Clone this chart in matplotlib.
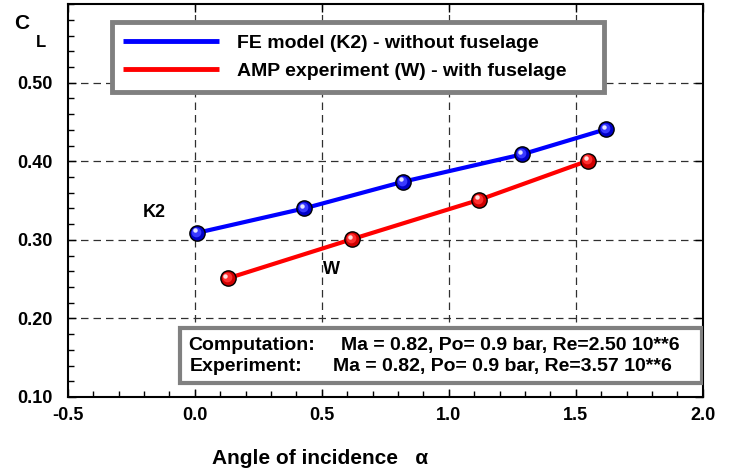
import matplotlib
matplotlib.use("Agg")
import matplotlib.pyplot as plt
from matplotlib.patches import Rectangle
from matplotlib.ticker import MultipleLocator
import matplotlib.transforms as mtransforms

plt.rcParams['font.family'] = ['Liberation Sans', 'DejaVu Sans']
plt.rcParams['font.weight'] = 'bold'

# Lift coefficient vs angle of incidence
alpha_fe = [0.01, 0.43, 0.82, 1.29, 1.62]
cl_fe = [0.309, 0.340, 0.374, 0.409, 0.441]
alpha_amp = [0.13, 0.62, 1.12, 1.55]
cl_amp = [0.251, 0.301, 0.351, 0.401]

label_fe = "FE model (K2) - without fuselage"
label_amp = "AMP experiment (W) - with fuselage"
info_rows = [("Computation:", "Ma = 0.82, Po= 0.9 bar, Re=2.50 10**6"),
             ("Experiment:", "Ma = 0.82, Po= 0.9 bar, Re=3.57 10**6")]
x_ticks = [-0.5, 0.0, 0.5, 1.0, 1.5, 2.0]
y_ticks = [0.10, 0.20, 0.30, 0.40, 0.50]

fig = plt.figure(figsize=(7.29, 4.72), dpi=100)
ax = fig.add_axes([0.093, 0.159, 0.871, 0.832])
ax.set_xlim(-0.5, 2.0)
ax.set_ylim(0.10, 0.60)


def sphere(ax, xs, ys, base, mid, light, z):
    """Draw shaded ball markers."""
    ax.plot(xs, ys, 'o', ms=11, mfc=base, mec='black', mew=1.0, zorder=z, ls='none')
    t1 = mtransforms.offset_copy(ax.transData, fig=fig, x=-0.8, y=0.8, units='points')
    ax.plot(xs, ys, 'o', ms=7, mfc=mid, mec='none', zorder=z + 0.1, ls='none', transform=t1)
    t2 = mtransforms.offset_copy(ax.transData, fig=fig, x=-1.8, y=1.8, units='points')
    ax.plot(xs, ys, 'o', ms=3.2, mfc=light, mec='none', zorder=z + 0.2, ls='none', transform=t2)


l1, = ax.plot(alpha_fe, cl_fe, color='#0000ff', lw=3, zorder=3, solid_capstyle='butt')
l2, = ax.plot(alpha_amp, cl_amp, color='#ff0000', lw=3, zorder=3, solid_capstyle='butt')
sphere(ax, alpha_fe, cl_fe, '#0000c8', '#3a3aff', '#e6e6ff', 5)
sphere(ax, alpha_amp, cl_amp, '#d00000', '#ff3030', '#ffe0e0', 5)

ax.text(-0.16, 0.335, "K2", fontsize=13, fontweight='bold', ha='center', va='center', zorder=6)
ax.text(0.54, 0.262, "W", fontsize=13, fontweight='bold', ha='center', va='center', zorder=6)

# grid
for xv in x_ticks[1:-1]:
    ax.axvline(xv, color='#303030', lw=0.9, ls=(0, (6, 4)), zorder=1)
for yv in y_ticks[1:]:
    ax.axhline(yv, color='#303030', lw=0.9, ls=(0, (6, 4)), zorder=1)

ax.set_xticks(x_ticks)
ax.set_yticks(y_ticks)
ax.set_xticklabels([f"{v:.1f}" for v in x_ticks])
ax.set_yticklabels([f"{v:.2f}" for v in y_ticks])
ax.xaxis.set_minor_locator(MultipleLocator(0.1))
ax.yaxis.set_minor_locator(MultipleLocator(0.02))
ax.tick_params(which='both', direction='in', top=True, right=True, width=1.0)
ax.tick_params(which='major', length=6, labelsize=13)
ax.tick_params(axis='y', which='major', pad=11)
ax.tick_params(axis='x', which='major', pad=7)
ax.tick_params(which='minor', length=4)
ax.tick_params(axis='y', which='minor', right=False)
ax.tick_params(axis='x', which='minor', top=False)
for s in ax.spines.values():
    s.set_linewidth(1.5)
for lab in ax.get_xticklabels() + ax.get_yticklabels():
    lab.set_fontweight('bold')

ax.set_xlabel("Angle of incidence   \u03b1", fontsize=15, fontweight='bold')
ax.xaxis.label.set_va('center')
ax.xaxis.set_label_coords(0.398, -0.158)

fig.text(0.030, 0.951, "C", fontsize=15, fontweight='bold', ha='center', va='center')
fig.text(0.056, 0.911, "L", fontsize=12, fontweight='bold', ha='center', va='center')

# legend
leg = ax.legend([l1, l2], [label_fe, label_amp], loc='upper left',
                bbox_to_anchor=(0.069, 0.954, 0.776, 0.0), mode='expand',
                borderaxespad=0.0, fontsize=14, handlelength=4.9, handletextpad=0.95,
                borderpad=0.6, labelspacing=0.55, fancybox=False, framealpha=1)
leg.get_frame().set_edgecolor('#808080')
leg.get_frame().set_linewidth(3.5)
for t in leg.get_texts():
    t.set_fontweight('bold')
for h in leg.get_lines():
    h.set_linewidth(3.5)

# flow conditions box
ax.add_patch(Rectangle((0.177, 0.036), 0.822, 0.14, transform=ax.transAxes,
                       fill=True, facecolor='white', edgecolor='#808080', lw=3, zorder=6))
ax.text(0.189, 0.130, info_rows[0][0], transform=ax.transAxes, fontsize=14,
        fontweight='bold', va='center', zorder=7)
ax.text(0.430, 0.130, info_rows[0][1], transform=ax.transAxes, fontsize=14,
        fontweight='bold', va='center', zorder=7)
ax.text(0.192, 0.077, info_rows[1][0], transform=ax.transAxes, fontsize=14,
        fontweight='bold', va='center', zorder=7)
ax.text(0.417, 0.077, info_rows[1][1], transform=ax.transAxes, fontsize=14,
        fontweight='bold', va='center', zorder=7)

fig.savefig("out.png", dpi=100)
